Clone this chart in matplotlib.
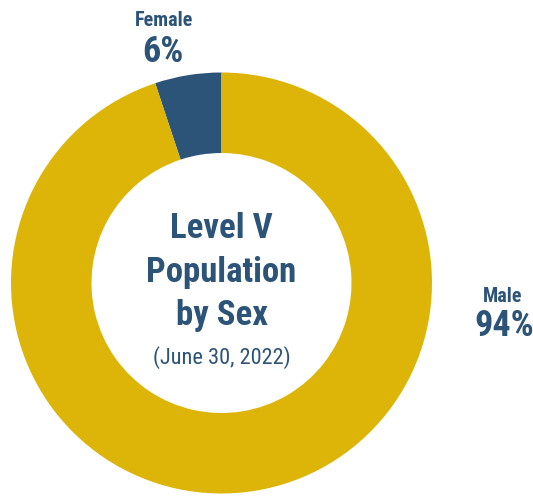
import matplotlib
matplotlib.use("Agg")
import matplotlib.pyplot as plt

# shares as drawn (labels are the rounded figures printed on the chart)
groups = ["Female", "Male"]
shares = [5.1, 94.9]
share_labels = ["6%", "94%"]
colors = ["#2C5378", "#DDB508"]

title_lines = ["Level V", "Population", "by Sex"]
subtitle = "(June 30, 2022)"

NAVY = "#2C5378"
FONT = ["Roboto Condensed", "Noto Sans Condensed", "Open Sans Condensed",
        "Noto Sans", "Roboto", "DejaVu Sans"]

W, H = 533, 502
fig = plt.figure(figsize=(W / 100, H / 100), dpi=100)
ax = fig.add_axes([0, 0, 1, 1])
ax.set_xlim(0, W)
ax.set_ylim(0, H)
ax.set_aspect("equal")
ax.axis("off")

cx, cy, R = 221.5, H - 284, 210.5
ax.pie(shares, colors=colors, startangle=90, counterclock=True,
       center=(cx, cy), radius=R,
       wedgeprops=dict(width=R - 130, edgecolor="none"))
ax.set_xlim(0, W)
ax.set_ylim(0, H)

kw = dict(ha="center", color=NAVY, family=FONT, fontstretch="condensed")

# slice labels (positioned on the baseline)
ax.text(164, H - 26, groups[0], fontsize=14.5, fontweight="bold", va="baseline", **kw)
ax.text(163, H - 62, share_labels[0], fontsize=26, fontweight="bold", va="baseline", **kw)
ax.text(503, H - 302, groups[1], fontsize=14.5, fontweight="bold", va="baseline", **kw)
ax.text(504, H - 336, share_labels[1], fontsize=26, fontweight="bold", va="baseline", **kw)

# centre title
for i, base in enumerate([238, 282, 325]):
    ax.text(cx, H - base, title_lines[i], fontsize=25, fontweight="bold",
            va="baseline", **kw)
ax.text(cx, H - 364, subtitle, fontsize=16, va="baseline", **kw)

fig.savefig("out.png", dpi=100)
